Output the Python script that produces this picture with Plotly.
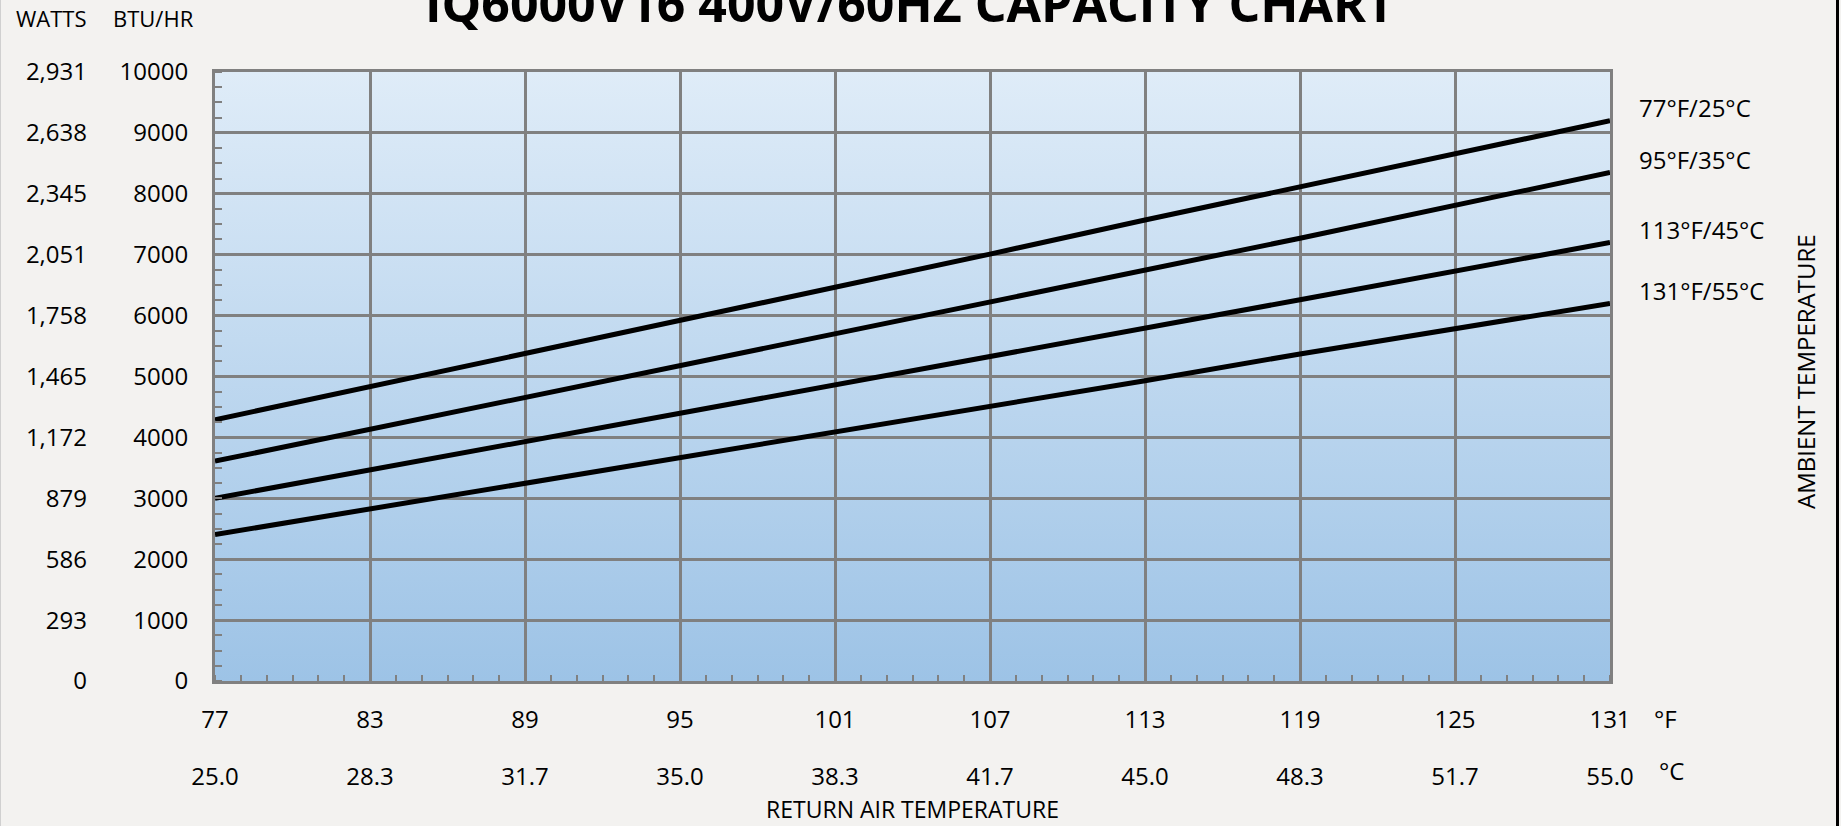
import base64
import plotly.graph_objects as go

# ---------------- data ----------------
temp_f = [77, 101, 107, 113, 119, 131]
cap_77f = [4290, 6460, 7010, 7570, 8120, 9200]
cap_95f = [3610, 5700, 6215, 6735, 7270, 8350]
cap_113f = [3000, 4860, 5310, 5775, 6260, 7200]
cap_131f = [2405, 4085, 4500, 4930, 5370, 6200]
series_names = ["77°F/25°C", "95°F/35°C", "113°F/45°C", "131°F/55°C"]

f_ticks = [77, 83, 89, 95, 101, 107, 113, 119, 125, 131]
f_labels = ["77", "83", "89", "95", "101", "107", "113", "119", "125", "131"]
c_labels = ["25.0", "28.3", "31.7", "35.0", "38.3", "41.7", "45.0", "48.3", "51.7", "55.0"]
btu_ticks = [0, 1000, 2000, 3000, 4000, 5000, 6000, 7000, 8000, 9000, 10000]
btu_labels = ["0", "1000", "2000", "3000", "4000", "5000", "6000", "7000", "8000", "9000", "10000"]
watt_labels = ["0", "293", "586", "879", "1,172", "1,465", "1,758", "2,051", "2,345", "2,638", "2,931"]

# ---------------- style ----------------
FONT = "Open Sans"
GRID = "#808080"
PAGE = "#F3F2F0"

W, H = 1841, 826
ML, MR, MT, MB = 87, 231, 72, 66
PW = W - ML - MR
PH = H - MT - MB
x_dom0 = (215 - ML) / PW
y_dom0 = (MT + PH - 681) / PH

svg = ('<svg xmlns="http://www.w3.org/2000/svg" width="10" height="100" viewBox="0 0 10 100" '
       'preserveAspectRatio="none"><defs><linearGradient id="g" x1="0" y1="0" x2="0" y2="1">'
       '<stop offset="0" stop-color="#DFECF8"/><stop offset="1" stop-color="#9DC3E6"/>'
       '</linearGradient></defs><rect width="10" height="100" fill="url(#g)"/></svg>')
svg_uri = "data:image/svg+xml;base64," + base64.b64encode(svg.encode()).decode()

fig = go.Figure()

for name, vals in zip(series_names, [cap_77f, cap_95f, cap_113f, cap_131f]):
    fig.add_trace(go.Scatter(x=temp_f, y=vals, mode="lines", name=name,
                             line=dict(color="black", width=5), hoverinfo="skip"))

# invisible trace on the secondary axes so they render
fig.add_trace(go.Scatter(x=[f_ticks[0], f_ticks[-1]], y=[btu_ticks[0], btu_ticks[-1]],
                         xaxis="x2", yaxis="y2", mode="markers",
                         marker=dict(opacity=0), hoverinfo="skip", showlegend=False))

axis_font = dict(family=FONT, size=24, color="black")

fig.update_layout(
    width=W, height=H,
    paper_bgcolor=PAGE, plot_bgcolor="#C0D8EF",
    margin=dict(l=ML, r=MR, t=MT, b=MB, autoexpand=False),
    showlegend=False,
    font=dict(family=FONT, color="black"),
    xaxis=dict(
        domain=[x_dom0, 1], range=[f_ticks[0], f_ticks[-1]], automargin=False,
        tickmode="array", tickvals=f_ticks, ticktext=f_labels, tickfont=axis_font,
        showgrid=True, gridcolor=GRID, gridwidth=2.5,
        showline=True, linecolor=GRID, linewidth=3, mirror=True,
        ticks="", zeroline=False, ticklabelstandoff=15,
        minor=dict(dtick=1, tick0=f_ticks[0], ticks="inside", ticklen=6,
                   tickcolor=GRID, tickwidth=2, showgrid=False),
    ),
    xaxis2=dict(
        overlaying="x", anchor="free", position=0, side="bottom", automargin=False,
        range=[f_ticks[0], f_ticks[-1]],
        tickmode="array", tickvals=f_ticks, ticktext=c_labels, tickfont=axis_font,
        showgrid=False, showline=False, ticks="", zeroline=False,
        title=dict(text="RETURN AIR TEMPERATURE", font=dict(family=FONT, size=23), standoff=10),
    ),
    yaxis=dict(
        domain=[y_dom0, 1], range=[btu_ticks[0], btu_ticks[-1]], automargin=False,
        tickmode="array", tickvals=btu_ticks, ticktext=btu_labels, tickfont=axis_font,
        showgrid=True, gridcolor=GRID, gridwidth=2.5,
        showline=True, linecolor=GRID, linewidth=3, mirror=True,
        ticks="", zeroline=False, ticklabelstandoff=19,
        minor=dict(dtick=250, tick0=0, ticks="inside", ticklen=7,
                   tickcolor=GRID, tickwidth=2, showgrid=False),
    ),
    yaxis2=dict(
        overlaying="y", anchor="free", position=0, side="left", automargin=False,
        range=[btu_ticks[0], btu_ticks[-1]],
        tickmode="array", tickvals=btu_ticks, ticktext=watt_labels, tickfont=axis_font,
        showgrid=False, showline=False, ticks="", zeroline=False,
    ),
    images=[dict(source=svg_uri, xref="x", yref="y",
                 x=f_ticks[0], y=btu_ticks[-1],
                 sizex=f_ticks[-1] - f_ticks[0], sizey=btu_ticks[-1] - btu_ticks[0],
                 xanchor="left", yanchor="top", sizing="stretch", layer="below")],
)

ann = []
# title (partly cut off at top, like the reference)
ann.append(dict(text="<b>IQ6000V16 400V/60HZ CAPACITY CHART</b>", xref="paper", yref="paper",
                x=(910 - ML) / PW, y=(MT + PH - 3) / PH, xanchor="center", yanchor="middle",
                showarrow=False, font=dict(family=FONT, size=50, color="black")))
ann.append(dict(text="WATTS", xref="paper", yref="paper", x=(51 - ML) / PW, y=(MT + PH - 18) / PH,
                xanchor="center", yanchor="middle", showarrow=False, font=dict(family=FONT, size=22)))
ann.append(dict(text="BTU/HR", xref="paper", yref="paper", x=(153 - ML) / PW, y=(MT + PH - 18) / PH,
                xanchor="center", yanchor="middle", showarrow=False, font=dict(family=FONT, size=22)))
# series labels at line ends
for name, vals in zip(series_names, [cap_77f, cap_95f, cap_113f, cap_131f]):
    ann.append(dict(text=name, xref="x", yref="y", x=temp_f[-1], y=vals[-1],
                    xanchor="left", yanchor="middle", xshift=27, yshift=13,
                    showarrow=False, font=dict(family=FONT, size=24)))
ann.append(dict(text="°F", xref="paper", yref="paper", x=(1652 - ML) / PW, y=(MT + PH - 718) / PH,
                xanchor="left", yanchor="middle", showarrow=False, font=dict(family=FONT, size=24)))
ann.append(dict(text="°C", xref="paper", yref="paper", x=(1657 - ML) / PW, y=(MT + PH - 770) / PH,
                xanchor="left", yanchor="middle", showarrow=False, font=dict(family=FONT, size=24)))
ann.append(dict(text="AMBIENT TEMPERATURE", xref="paper", yref="paper",
                x=(1805 - ML) / PW, y=(MT + PH - 372) / PH, textangle=-90,
                xanchor="center", yanchor="middle", showarrow=False, font=dict(family=FONT, size=24)))
fig.update_layout(annotations=ann)

# page border lines
fig.add_shape(type="line", xref="paper", yref="paper",
              x0=(1837.5 - ML) / PW, x1=(1837.5 - ML) / PW, y0=-1, y1=2,
              line=dict(color="black", width=3))
fig.add_shape(type="line", xref="paper", yref="paper",
              x0=(0.5 - ML) / PW, x1=(0.5 - ML) / PW, y0=-1, y1=2,
              line=dict(color="#D0D0D0", width=1))

fig.write_html("out.html", config={"displayModeBar": False},
               post_script="document.body.style.margin='0';document.body.style.overflow='hidden';")
